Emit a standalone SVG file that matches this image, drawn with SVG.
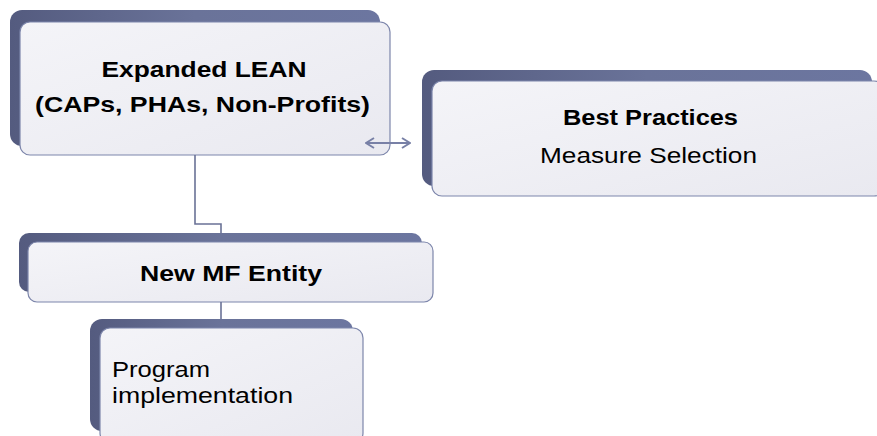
<svg xmlns="http://www.w3.org/2000/svg" width="877" height="436" viewBox="0 0 877 436">
  <defs>
    <linearGradient id="shadowGrad" x1="0" y1="0" x2="1" y2="0">
      <stop offset="0" stop-color="#545b7f"/>
      <stop offset="0.5" stop-color="#6a7399"/>
      <stop offset="1" stop-color="#6c76a0"/>
    </linearGradient>
    <linearGradient id="faceGrad" x1="0" y1="0" x2="1" y2="1">
      <stop offset="0" stop-color="#f4f4f8"/>
      <stop offset="1" stop-color="#e9e9f0"/>
    </linearGradient>
    <marker id="chev" viewBox="0 0 10 12" refX="9" refY="6" markerWidth="10" markerHeight="12" markerUnits="userSpaceOnUse" orient="auto-start-reverse">
      <path d="M1,1 L9,6 L1,11" fill="none" stroke="#7880a6" stroke-width="2"/>
    </marker>
    <style>
      .shadow { fill: url(#shadowGrad); }
      .face { fill: url(#faceGrad); stroke: #7d86ab; stroke-width: 1.2; }
      .conn { fill: none; stroke: #6a7296; stroke-width: 1.6; }
      .arrow { fill: none; stroke: #7880a6; stroke-width: 2; }
      .bold { font-family: "Liberation Sans", Arial, sans-serif; font-weight: bold; font-size: 22px; fill: #000; }
      .reg { font-family: "Liberation Sans", Arial, sans-serif; font-size: 22px; fill: #000; }
    </style>
  </defs>

  <g id="node-expanded-lean">
    <rect class="shadow" x="10" y="10" width="370" height="136" rx="12"/>
    <rect class="face" x="20" y="22" width="370" height="133" rx="10"/>
    <text class="bold" x="204" y="77" text-anchor="middle" textLength="205" lengthAdjust="spacingAndGlyphs">Expanded LEAN</text>
    <text class="bold" x="202.5" y="112" text-anchor="middle" textLength="335" lengthAdjust="spacingAndGlyphs">(CAPs, PHAs, Non-Profits)</text>
  </g>

  <g id="node-best-practices">
    <rect class="shadow" x="422" y="70" width="450" height="116" rx="12"/>
    <rect class="face" x="432" y="81" width="452" height="115" rx="10"/>
    <text class="bold" x="650.5" y="125" text-anchor="middle" textLength="175" lengthAdjust="spacingAndGlyphs">Best Practices</text>
    <text class="reg" x="648.5" y="163" text-anchor="middle" textLength="217" lengthAdjust="spacingAndGlyphs">Measure Selection</text>
  </g>

  <g id="node-new-mf-entity">
    <rect class="shadow" x="19" y="233" width="403" height="59" rx="10"/>
    <rect class="face" x="28" y="242" width="405" height="60" rx="9"/>
    <text class="bold" x="231" y="281" text-anchor="middle" textLength="182" lengthAdjust="spacingAndGlyphs">New MF Entity</text>
  </g>

  <g id="node-program-implementation">
    <rect class="shadow" x="90" y="319" width="263" height="112" rx="12"/>
    <rect class="face" x="100" y="328" width="263" height="115" rx="10"/>
    <text class="reg" x="112" y="377" textLength="98" lengthAdjust="spacingAndGlyphs">Program</text>
    <text class="reg" x="112" y="403" textLength="181" lengthAdjust="spacingAndGlyphs">implementation</text>
  </g>

  <g id="connectors">
    <path class="conn" d="M195,155 V224 H221 V233"/>
    <path class="conn" d="M221,302 V319"/>
    <path class="arrow" d="M366,143 H410" marker-start="url(#chev)" marker-end="url(#chev)"/>
  </g>
</svg>
